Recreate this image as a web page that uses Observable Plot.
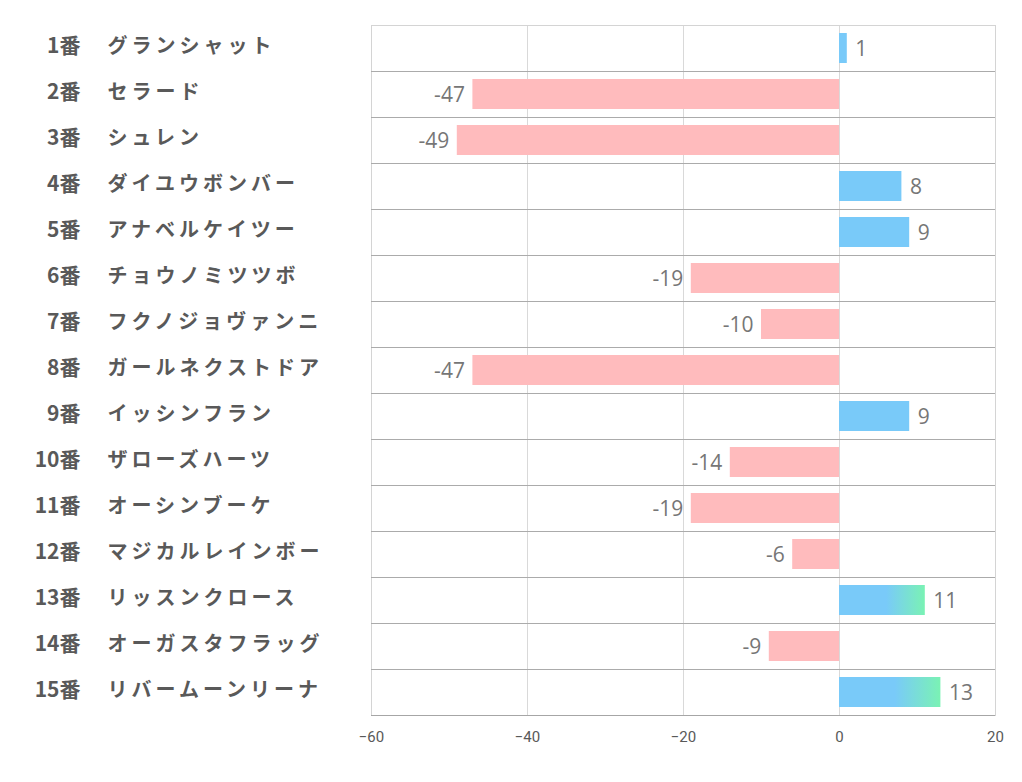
<!DOCTYPE html>
<html><head><meta charset="utf-8">
<script src="https://cdn.jsdelivr.net/npm/d3@7"></script>
<script src="https://cdn.jsdelivr.net/npm/@observablehq/plot@0.6"></script>
<style>
body{margin:0;background:#fff;}
svg{display:block;}
.names text{letter-spacing:4px;}
</style></head>
<body><div id="chart"></div>
<script>
const numbers = ["1番","2番","3番","4番","5番","6番","7番","8番","9番","10番","11番","12番","13番","14番","15番"];
const horses = ["グランシャット","セラード","シュレン","ダイユウボンバー","アナベルケイツー","チョウノミツツボ","フクノジョヴァンニ","ガールネクストドア","イッシンフラン","ザローズハーツ","オーシンブーケ","マジカルレインボー","リッスンクロース","オーガスタフラッグ","リバームーンリーナ"];
const values = [1,-47,-49,8,9,-19,-10,-47,9,-14,-19,-6,11,-9,13];
const xTicks = [-60,-40,-20,0,20];

const data = numbers.map((n,i)=>({n, name: horses[i], v: values[i]}));
const nameOf = Object.fromEntries(data.map(d=>[d.n,d.name]));
const BLUE="#79caf9", PINK="#ffbbbd", GREEN="#7af2b4";
const font = "'Noto Sans CJK JP','Noto Sans',sans-serif";

const gradDefs = () => {
  const ns="http://www.w3.org/2000/svg";
  const defs=document.createElementNS(ns,"defs");
  defs.innerHTML = `<linearGradient id="bg" x1="0" x2="1" y1="0" y2="0">
    <stop offset="0" stop-color="${BLUE}"/><stop offset="0.55" stop-color="${BLUE}"/><stop offset="1" stop-color="${GREEN}"/></linearGradient>`;
  return defs;
};

const chart = Plot.plot({
  width: 1022, height: 782,
  marginLeft: 371, marginRight: 27, marginTop: 25, marginBottom: 67,
  style: {fontFamily: font, background:"#fff"},
  x: {domain: [-60,20], ticks: xTicks},
  y: {domain: numbers, padding: 0, axis: null},
  marks: [
    gradDefs,
    Plot.ruleX([-40,-20,0], {stroke:"#d9d9d9", strokeOpacity:1}),
    Plot.frame({stroke:"#d4d4d4", strokeOpacity:1}),
    Plot.ruleY(numbers.slice(1), {y: d=>d, dy:-23, stroke:"#ababab", strokeOpacity:1}),
    Plot.ruleY(numbers.slice(-1), {y: d=>d, dy:23, stroke:"#a6a6a6", strokeOpacity:1}),
    Plot.barX(data.filter(d=>d.v<0), {x: "v", y: "n", fill: PINK, insetTop: 8, insetBottom: 8}),
    Plot.barX(data.filter(d=>d.v>0 && d.v<10), {x: "v", y: "n", fill: BLUE, insetTop: 8, insetBottom: 8}),
    Plot.barX(data.filter(d=>d.v>=10), {x: "v", y: "n", fill: "url(#bg)", insetTop: 8, insetBottom: 8}),
    Plot.text(data.filter(d=>d.v<0), {x:"v", y:"n", text: d=>String(d.v), textAnchor:"end", dx:-8, dy:1, fontSize:21, fill:"#767676", fontFamily:"'Open Sans',sans-serif"}),
    Plot.text(data.filter(d=>d.v>=0), {x:"v", y:"n", text: d=>String(d.v), textAnchor:"start", dx:8, dy:1, fontSize:21, fill:"#767676", fontFamily:"'Open Sans',sans-serif"}),
    Plot.axisY({anchor:"left", tickSize:0, tickPadding:291, textAnchor:"end", fontSize:21, fontWeight:"bold", fill:"#595959", dy:-2, label:null}),
    Plot.axisY({anchor:"left", tickSize:0, tickPadding:264, textAnchor:"start", tickFormat: d=>nameOf[d], fontSize:20, fontWeight:"bold", fill:"#595959", className:"names", dy:-2, label:null}),
    Plot.axisX({anchor:"bottom", ticks: xTicks, tickSize:0, tickPadding:16, fontSize:15, fill:"#595959", label:null, fontFamily:"'Liberation Sans Narrow','Roboto',sans-serif"})
  ]
});
document.getElementById("chart").append(chart);
</script>
</body></html>
